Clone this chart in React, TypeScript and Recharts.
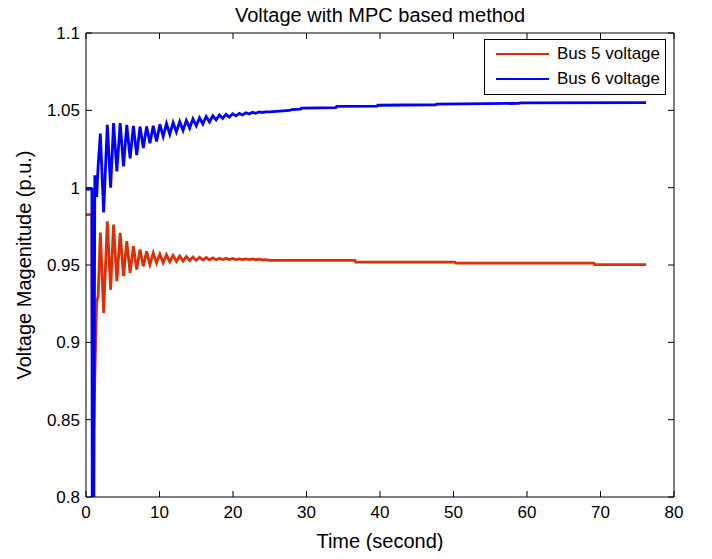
import React from 'react';
import { LineChart, Line, XAxis, YAxis } from 'recharts';

// Oscillatory part (shared time base), seconds
const oscTime = [0, 0.8, 0.85, 1.05, 1.2, 1.45, 1.65, 1.95, 2.4, 2.9, 3.35, 3.75, 4.2, 4.65, 5.1, 5.55, 6.0, 6.45, 6.9, 7.35, 7.8, 8.25, 8.7, 9.15, 9.6, 10.05, 10.5, 10.95, 11.4, 11.85, 12.3, 12.75, 13.2, 13.65, 14.1, 14.55, 15.0, 15.45, 15.9, 16.35, 16.8, 17.25, 17.7, 18.15, 18.6, 19.05, 19.5, 19.95, 20.4, 20.85, 21.3, 21.75, 22.2, 22.65, 23.1, 23.55, 24.0, 24.45];

const bus5Osc = [0.9826, 0.9826, 0.9, 0.844, 0.878, 0.926, 0.93, 0.971, 0.919, 0.9783, 0.934, 0.9761, 0.9396, 0.9708, 0.9428, 0.9654, 0.945, 0.9621, 0.947, 0.96, 0.9492, 0.9589, 0.9503, 0.9578, 0.9514, 0.957, 0.9515, 0.9566, 0.952, 0.9562, 0.9523, 0.9558, 0.9526, 0.9555, 0.9528, 0.9552, 0.953, 0.955, 0.9532, 0.9548, 0.9533, 0.9546, 0.9534, 0.9544, 0.9535, 0.9543, 0.9535, 0.9542, 0.9535, 0.954, 0.9535, 0.954, 0.9535, 0.9539, 0.9534, 0.9538, 0.9533, 0.9535];

const bus6Osc = [0.999, 0.999, 0.78, 0.78, 1.008, 0.994, 1.014, 1.035, 0.984, 1.0406, 1.0, 1.0417, 1.0105, 1.0417, 1.0137, 1.0406, 1.019, 1.04, 1.021, 1.0395, 1.0256, 1.0395, 1.0288, 1.04, 1.0298, 1.041, 1.0331, 1.0415, 1.0345, 1.042, 1.036, 1.0427, 1.037, 1.0435, 1.0385, 1.0445, 1.04, 1.0452, 1.0412, 1.046, 1.0425, 1.0465, 1.0438, 1.047, 1.0448, 1.0474, 1.0456, 1.0478, 1.0464, 1.048, 1.047, 1.0484, 1.0476, 1.0487, 1.0481, 1.049, 1.0486, 1.049];

// Slow stepwise tails
const bus5TailTime = [25, 36.6, 36.7, 50.2, 50.3, 69.1, 69.2, 76.2];
const bus5TailV = [0.953, 0.953, 0.9518, 0.9518, 0.9512, 0.9512, 0.9503, 0.9503];
const bus6TailTime = [25, 27.7, 28.0, 29.2, 29.3, 34.0, 34.1, 39.6, 39.7, 47.6, 47.7, 58.9, 59.0, 76.2];
const bus6TailV = [1.049, 1.0499, 1.0505, 1.0508, 1.0514, 1.0518, 1.0525, 1.0527, 1.0533, 1.0536, 1.054, 1.0545, 1.0548, 1.055];

const xTicks = [0, 10, 20, 30, 40, 50, 60, 70, 80];
const yTicks = [0.8, 0.85, 0.9, 0.95, 1, 1.05, 1.1];
const seriesNames = ['Bus 5 voltage', 'Bus 6 voltage'];
const seriesColors = ['#dd2e06', '#0000ff'];

const bus5Data = [
  ...oscTime.map((t, i) => ({ t, v: bus5Osc[i] })),
  ...bus5TailTime.map((t, i) => ({ t, v: bus5TailV[i] })),
];
const bus6Data = [
  ...oscTime.map((t, i) => ({ t, v: bus6Osc[i] })),
  ...bus6TailTime.map((t, i) => ({ t, v: bus6TailV[i] })),
];

const FONT = '"Liberation Sans", Arial, Helvetica, sans-serif';
const TL = 6;

const BottomTick = (p: any) => (
  <g>
    <line x1={p.x} y1={p.y} x2={p.x} y2={p.y - TL} stroke="#000" strokeWidth={1} />
    <text x={p.x} y={p.y + 21} textAnchor="middle" fontSize={17} fontFamily={FONT} fill="#000">
      {String(p.payload.value)}
    </text>
  </g>
);
const TopTick = (p: any) => (
  <line x1={p.x} y1={p.y} x2={p.x} y2={p.y + TL} stroke="#000" strokeWidth={1} />
);
const LeftTick = (p: any) => (
  <g>
    <line x1={p.x} y1={p.y} x2={p.x + TL} y2={p.y} stroke="#000" strokeWidth={1} />
    <text x={p.x - 6} y={p.y + 6} textAnchor="end" fontSize={17} fontFamily={FONT} fill="#000">
      {String(p.payload.value)}
    </text>
  </g>
);
const RightTick = (p: any) => (
  <line x1={p.x} y1={p.y} x2={p.x - TL} y2={p.y} stroke="#000" strokeWidth={1} />
);

export default function App() {
  return (
    <div style={{ position: 'relative', width: 712, height: 559, margin: -8, fontFamily: FONT, overflow: 'hidden' }}>
      <LineChart width={712} height={559} margin={{ top: 32, right: 37, bottom: 0, left: 0 }}>
        <XAxis
          dataKey="t"
          type="number"
          domain={[0, 80]}
          ticks={xTicks}
          interval={0}
          height={62}
          tickSize={0}
          tickMargin={0}
          tickLine={false}
          tick={BottomTick}
          axisLine={{ stroke: '#000' }}
          allowDataOverflow
          label={{ value: 'Time (second)', position: 'insideBottom', offset: 11, fontSize: 20, fill: '#000', fontFamily: FONT }}
        />
        <XAxis
          xAxisId="top"
          dataKey="t"
          orientation="top"
          type="number"
          domain={[0, 80]}
          ticks={xTicks}
          interval={0}
          height={1}
          tickSize={0}
          tickMargin={0}
          tickLine={false}
          tick={TopTick}
          axisLine={{ stroke: '#000' }}
          allowDataOverflow
          label={{ value: 'Voltage with MPC based method', position: 'top', offset: 10, fontSize: 20, fill: '#000', fontFamily: FONT }}
        />
        <YAxis
          type="number"
          domain={[0.8, 1.1]}
          ticks={yTicks}
          interval={0}
          width={86}
          tickSize={0}
          tickMargin={0}
          tickLine={false}
          tick={LeftTick}
          axisLine={{ stroke: '#000' }}
          allowDataOverflow
          label={{ value: 'Voltage Magenitude (p.u.)', angle: -90, position: 'insideLeft', offset: 24, fontSize: 20, fill: '#000', fontFamily: FONT, style: { textAnchor: 'middle' } }}
        />
        <YAxis
          yAxisId="right"
          orientation="right"
          type="number"
          domain={[0.8, 1.1]}
          ticks={yTicks}
          interval={0}
          width={1}
          tickSize={0}
          tickMargin={0}
          tickLine={false}
          tick={RightTick}
          axisLine={{ stroke: '#000' }}
          allowDataOverflow
        />
        <Line data={bus5Data} xAxisId="top" yAxisId="right" dataKey="v" legendType="none" stroke="none" strokeWidth={0} dot={false} activeDot={false} isAnimationActive={false} />
        <Line data={bus5Data} dataKey="v" name={seriesNames[0]} type="linear" stroke={seriesColors[0]} strokeWidth={2.8} dot={false} isAnimationActive={false} />
        <Line data={bus6Data} dataKey="v" name={seriesNames[1]} type="linear" stroke={seriesColors[1]} strokeWidth={2.8} dot={false} isAnimationActive={false} />
      </LineChart>
      <div
        style={{
          position: 'absolute',
          left: 484,
          top: 39,
          width: 182,
          height: 56,
          border: '1px solid #000',
          background: '#fff',
          boxSizing: 'border-box',
        }}
      >
        {seriesNames.map((n, i) => (
          <div key={n} style={{ position: 'absolute', left: 0, top: 4 + i * 25, height: 20, display: 'flex', alignItems: 'center' }}>
            <div style={{ marginLeft: 11, width: 53, height: 0, borderTop: `2.5px solid ${seriesColors[i]}` }} />
            <span style={{ marginLeft: 8, fontSize: 17, color: '#000', whiteSpace: 'nowrap' }}>{n}</span>
          </div>
        ))}
      </div>
    </div>
  );
}
